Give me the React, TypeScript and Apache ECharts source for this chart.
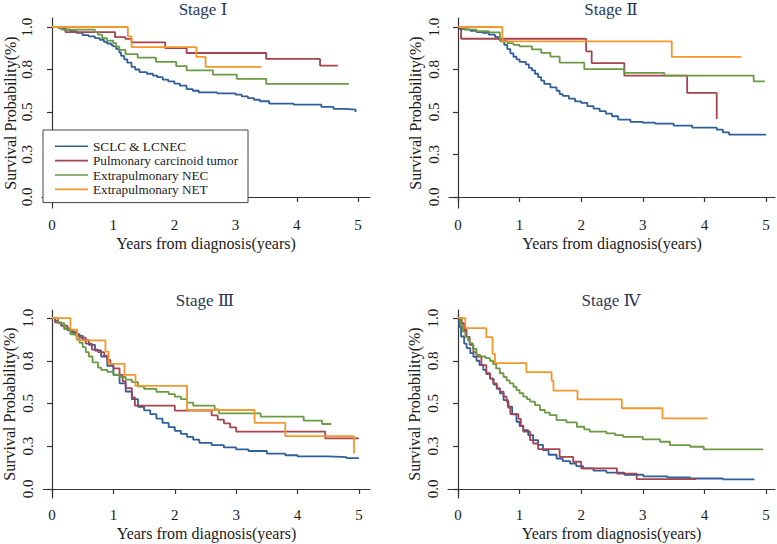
import React, { useEffect, useRef } from "react";
import * as echarts from "echarts";

// ---------- data ----------
const seriesNames = [
  "SCLC & LCNEC",
  "Pulmonary carcinoid tumor",
  "Extrapulmonary NEC",
  "Extrapulmonary NET",
];
const seriesColors = ["#2f5f98", "#a8434f", "#6a9a44", "#f5962a"];
const panelTitles = ["Stage \u2160", "Stage \u2161", "Stage \u2162", "Stage \u2163"];
const xTickValues = [0, 1, 2, 3, 4, 5];
const yTickValues = [0, 0.25, 0.5, 0.75, 1];
const yTickLabels = ["0.0", "0.3", "0.5", "0.8", "1.0"];

type P = [number, number];

// Stage I
const s1Sclc: P[] = [[0,1],[0.1,0.995],[0.2,0.985],[0.3,0.975],[0.4,0.965],[0.5,0.952],[0.6,0.945],[0.7,0.935],[0.78,0.925],[0.85,0.912],[0.9,0.903],[0.97,0.893],[1.0,0.886],[1.05,0.87],[1.1,0.85],[1.13,0.83],[1.18,0.81],[1.23,0.79],[1.3,0.765],[1.36,0.75],[1.43,0.735],[1.55,0.725],[1.65,0.714],[1.72,0.705],[1.81,0.69],[1.9,0.68],[2.0,0.667],[2.09,0.655],[2.2,0.635],[2.3,0.625],[2.4,0.615],[2.7,0.61],[3.0,0.602],[3.1,0.592],[3.2,0.582],[3.3,0.572],[3.4,0.563],[3.55,0.549],[3.95,0.543],[4.4,0.53],[4.6,0.518],[4.8,0.514],[4.96,0.5]];
const s1Carcinoid: P[] = [[0,1],[0.22,0.97],[1.03,0.94],[1.2,0.93],[1.3,0.91],[1.85,0.876],[2.2,0.847],[3.5,0.812],[4.38,0.773],[4.67,0.773]];
const s1Nec: P[] = [[0,1],[0.15,0.985],[0.7,0.97],[0.75,0.955],[0.82,0.935],[0.9,0.92],[1.0,0.905],[1.05,0.885],[1.1,0.865],[1.2,0.84],[1.4,0.82],[1.7,0.795],[2.03,0.77],[2.2,0.745],[2.63,0.72],[3.02,0.695],[3.5,0.665],[4.85,0.665]];
const s1Net: P[] = [[0,1],[1.24,0.945],[1.3,0.882],[2.36,0.824],[2.51,0.765],[3.42,0.765]];

// Stage II
const s2Sclc: P[] = [[0,1],[0.03,0.988],[0.1,0.984],[0.2,0.978],[0.3,0.97],[0.4,0.965],[0.5,0.955],[0.6,0.942],[0.65,0.93],[0.7,0.916],[0.75,0.895],[0.8,0.87],[0.85,0.845],[0.9,0.825],[0.95,0.81],[1.0,0.795],[1.1,0.78],[1.15,0.76],[1.2,0.745],[1.25,0.725],[1.3,0.705],[1.35,0.685],[1.4,0.665],[1.5,0.645],[1.6,0.625],[1.65,0.605],[1.7,0.595],[1.8,0.578],[1.9,0.562],[2.0,0.553],[2.1,0.535],[2.2,0.52],[2.3,0.505],[2.4,0.49],[2.5,0.475],[2.6,0.455],[2.8,0.442],[3.0,0.437],[3.2,0.432],[3.5,0.42],[3.8,0.408],[4.2,0.396],[4.3,0.38],[4.4,0.367],[5.0,0.367]];
const s2Carcinoid: P[] = [[0,1],[0.05,0.931],[2.08,0.857],[2.17,0.788],[2.7,0.714],[3.72,0.612],[4.2,0.459]];
const s2Nec: P[] = [[0,1],[0.1,0.985],[0.3,0.975],[0.5,0.968],[0.68,0.918],[0.8,0.905],[0.9,0.895],[1.0,0.886],[1.2,0.868],[1.35,0.848],[1.5,0.826],[1.65,0.79],[2.05,0.752],[2.7,0.73],[3.35,0.714],[4.8,0.68],[4.98,0.68]];
const s2Net: P[] = [[0,1],[0.72,0.916],[3.47,0.824],[4.6,0.824]];

// Stage III
const s3Sclc: P[] = [[0,1],[0.05,0.985],[0.1,0.97],[0.15,0.955],[0.2,0.94],[0.3,0.918],[0.4,0.896],[0.5,0.87],[0.6,0.843],[0.7,0.81],[0.8,0.775],[0.9,0.72],[1.0,0.667],[1.1,0.618],[1.2,0.57],[1.3,0.525],[1.4,0.481],[1.5,0.46],[1.6,0.438],[1.7,0.412],[1.8,0.387],[1.9,0.362],[2.0,0.34],[2.1,0.322],[2.2,0.305],[2.3,0.288],[2.4,0.27],[2.6,0.256],[2.8,0.243],[3.0,0.231],[3.2,0.222],[3.5,0.207],[3.8,0.197],[4.0,0.19],[4.5,0.186],[4.8,0.18],[5.0,0.176]];
const s3Carcinoid: P[] = [[0,1],[0.05,0.975],[0.15,0.955],[0.25,0.93],[0.35,0.905],[0.45,0.885],[0.55,0.85],[0.65,0.815],[0.75,0.8],[0.85,0.78],[0.9,0.755],[0.95,0.73],[1.0,0.706],[1.1,0.667],[1.15,0.63],[1.2,0.59],[1.3,0.536],[1.35,0.487],[2.0,0.458],[2.6,0.43],[2.7,0.405],[2.8,0.384],[2.9,0.36],[3.0,0.335],[4.45,0.296],[5.0,0.296]];
const s3Nec: P[] = [[0,1],[0.1,0.97],[0.2,0.935],[0.3,0.905],[0.4,0.877],[0.45,0.855],[0.5,0.83],[0.55,0.8],[0.6,0.775],[0.66,0.74],[0.75,0.71],[0.8,0.697],[0.9,0.685],[1.0,0.668],[1.1,0.655],[1.2,0.64],[1.3,0.625],[1.4,0.6],[1.5,0.585],[1.7,0.568],[1.9,0.555],[2.0,0.54],[2.1,0.525],[2.2,0.505],[2.3,0.487],[2.65,0.465],[2.72,0.442],[3.4,0.423],[4.1,0.4],[4.4,0.38],[4.55,0.38]];
const s3Net: P[] = [[0,1],[0.3,0.932],[0.41,0.869],[0.87,0.804],[0.92,0.732],[1.18,0.667],[1.36,0.603],[2.2,0.462],[3.3,0.387],[3.8,0.309],[4.92,0.207]];

// Stage IV
const s4Sclc: P[] = [[0,1],[0.02,0.95],[0.05,0.892],[0.1,0.85],[0.14,0.824],[0.2,0.795],[0.25,0.773],[0.3,0.75],[0.35,0.725],[0.41,0.697],[0.46,0.672],[0.52,0.645],[0.58,0.61],[0.63,0.585],[0.68,0.56],[0.74,0.52],[0.81,0.481],[0.88,0.437],[0.95,0.393],[1.0,0.368],[1.06,0.344],[1.14,0.315],[1.22,0.286],[1.3,0.258],[1.38,0.227],[1.47,0.2],[1.6,0.178],[1.7,0.163],[1.82,0.149],[1.92,0.134],[2.03,0.12],[2.2,0.107],[2.41,0.096],[2.7,0.083],[3.01,0.074],[3.4,0.067],[3.77,0.061],[4.3,0.056],[4.8,0.051]];
const s4Carcinoid: P[] = [[0,1],[0.06,0.97],[0.1,0.93],[0.14,0.89],[0.19,0.843],[0.25,0.8],[0.3,0.775],[0.38,0.725],[0.46,0.677],[0.52,0.645],[0.57,0.618],[0.63,0.59],[0.68,0.569],[0.74,0.54],[0.79,0.511],[0.82,0.475],[0.85,0.438],[0.98,0.41],[1.02,0.37],[1.06,0.335],[1.17,0.286],[1.22,0.266],[1.3,0.233],[1.65,0.188],[1.87,0.159],[2.0,0.12],[2.58,0.09],[2.9,0.057],[3.87,0.057]];
const s4Nec: P[] = [[0,1],[0.04,0.96],[0.08,0.92],[0.12,0.89],[0.16,0.87],[0.19,0.853],[0.24,0.82],[0.3,0.785],[0.36,0.775],[0.45,0.765],[0.52,0.75],[0.57,0.73],[0.62,0.705],[0.68,0.677],[0.74,0.655],[0.79,0.635],[0.84,0.618],[0.9,0.598],[0.95,0.578],[1.0,0.56],[1.06,0.54],[1.12,0.525],[1.17,0.511],[1.25,0.49],[1.33,0.462],[1.41,0.447],[1.49,0.432],[1.6,0.403],[1.76,0.39],[1.93,0.364],[2.05,0.348],[2.14,0.335],[2.41,0.325],[2.55,0.315],[2.68,0.305],[3.0,0.29],[3.28,0.276],[3.44,0.256],[3.77,0.247],[3.99,0.231],[4.95,0.231]];
const s4Net: P[] = [[0,1],[0.12,0.941],[0.46,0.888],[0.56,0.79],[0.6,0.736],[1.11,0.683],[1.52,0.634],[1.55,0.575],[1.94,0.524],[2.66,0.472],[3.32,0.413],[4.05,0.413]];

const panelData: P[][][] = [
  [s1Sclc, s1Carcinoid, s1Nec, s1Net],
  [s2Sclc, s2Carcinoid, s2Nec, s2Net],
  [s3Sclc, s3Carcinoid, s3Nec, s3Net],
  [s4Sclc, s4Carcinoid, s4Nec, s4Net],
];

// ---------- layout ----------
const layout = [
  { left: 42, top: 18, width: 328, height: 190, xMin: -0.163, xMax: 5.196, yMin: -0.065, yMax: 1.053, yGap: 22, tx: 203, ty: 9 },
  { left: 449, top: 18, width: 326, height: 190, xMin: -0.146, xMax: 5.146, yMin: -0.065, yMax: 1.053, yGap: 26, tx: 611, ty: 9 },
  { left: 43, top: 310, width: 327, height: 188, xMin: -0.147, xMax: 5.18, yMin: -0.053, yMax: 1.047, yGap: 26, tx: 205, ty: 300 },
  { left: 448, top: 310, width: 327, height: 188, xMin: -0.162, xMax: 5.146, yMin: -0.053, yMax: 1.047, yGap: 26, tx: 611, ty: 300 },
];

const SERIF = "'Liberation Serif', 'Times New Roman', serif";
const TITLE_FONT = "'Liberation Serif', 'DejaVu Serif', serif";
const AXIS_COLOR = "#333";
const TEXT_COLOR = "#1a1a1a";

export default function App() {
  const ref = useRef<HTMLDivElement>(null);
  useEffect(() => {
    if (!ref.current) return;
    const chart = echarts.init(ref.current, undefined, { renderer: "svg" });

    const grid = layout.map((l) => ({ left: l.left, top: l.top, width: l.width, height: l.height, containLabel: false }));
    const xAxis = layout.map((l, i) => ({
      type: "value",
      gridIndex: i,
      min: l.xMin,
      max: l.xMax,
      name: "Years from diagnosis(years)",
      nameLocation: "middle",
      nameGap: 27,
      nameTextStyle: { fontFamily: SERIF, fontSize: 16, color: TEXT_COLOR },
      axisLine: { show: true, lineStyle: { color: AXIS_COLOR, width: 1.2 } },
      axisTick: { show: true, inside: false, length: 5, customValues: xTickValues, lineStyle: { color: AXIS_COLOR, width: 1.2 } },
      axisLabel: { customValues: xTickValues, fontFamily: SERIF, fontSize: 15, color: TEXT_COLOR, margin: 9 },
      splitLine: { show: false },
    }));
    const yAxis = layout.map((l, i) => ({
      type: "value",
      gridIndex: i,
      min: l.yMin,
      max: l.yMax,
      name: "Survival Probability(%)",
      nameLocation: "middle",
      nameGap: l.yGap,
      nameRotate: 90,
      nameTextStyle: { fontFamily: SERIF, fontSize: 16, color: TEXT_COLOR },
      axisLine: { show: true, lineStyle: { color: AXIS_COLOR, width: 1.2 } },
      axisTick: { show: true, inside: false, length: 5, customValues: yTickValues, lineStyle: { color: AXIS_COLOR, width: 1.2 } },
      axisLabel: {
        customValues: yTickValues,
        rotate: 90,
        fontFamily: SERIF,
        fontSize: 15,
        color: TEXT_COLOR,
        margin: 8,
        formatter: (v: number) => {
          const idx = yTickValues.findIndex((t) => Math.abs(t - v) < 1e-6);
          return idx >= 0 ? yTickLabels[idx] : "";
        },
      },
      splitLine: { show: false },
    }));

    const series: any[] = [];
    panelData.forEach((curves, pi) => {
      curves.forEach((pts, si) => {
        series.push({
          type: "line",
          name: seriesNames[si],
          xAxisIndex: pi,
          yAxisIndex: pi,
          step: "end",
          data: pts,
          showSymbol: false,
          symbol: "none",
          color: seriesColors[si],
          lineStyle: { color: seriesColors[si], width: 1.8 },
          emphasis: { disabled: true },
          z: 2 + si,
        });
      });
    });

    const graphic = layout.map((l, i) => ({
      type: "text",
      x: l.tx,
      y: l.ty,
      style: {
        text: panelTitles[i],
        fontFamily: TITLE_FONT,
        fontSize: 17,
        fill: "#2b3a58",
        textAlign: "center",
        textVerticalAlign: "middle",
      },
    }));

    chart.setOption({
      animation: false,
      backgroundColor: "#ffffff",
      grid,
      xAxis,
      yAxis,
      series,
      graphic,
      legend: {
        show: true,
        orient: "vertical",
        left: 43,
        top: 130,
        data: seriesNames,
        icon: "rect",
        itemWidth: 33,
        itemHeight: 1.6,
        itemGap: 0,
        padding: [9, 10, 6, 12],
        borderColor: "#444",
        borderWidth: 1,
        backgroundColor: "#ffffff",
        selectedMode: false,
        textStyle: { fontFamily: SERIF, fontSize: 13.2, lineHeight: 14.4, color: "#222" },
      },
    });
    return () => chart.dispose();
  }, []);
  return (
    <div
      ref={ref}
      style={{ position: "fixed", left: 0, top: 0, width: 777, height: 544, background: "#fff" }}
    />
  );
}
